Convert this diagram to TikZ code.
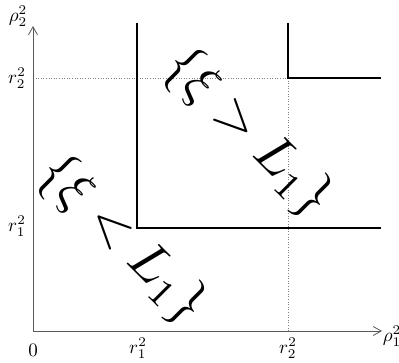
\documentclass[tikz,border=0pt]{standalone}
\usetikzlibrary{arrows.meta}
\begin{document}
\begin{tikzpicture}[x=1pt,y=-1pt,
  axis/.style={draw=black!65,line width=0.8pt,-{Straight Barb[length=8pt,width=9pt,line width=0.8pt]}},
  region/.style={draw=black,line width=1.2pt},
  guide/.style={draw=black!50,dotted,line width=0.6pt},
  lbl/.style={scale=1.9,transform shape,inner sep=0.5pt},
  big/.style={scale=5.4,rotate=-45,transform shape,inner sep=0pt}]
\useasboundingbox (0,0) rectangle (399,362);
\coordinate (O) at (33,331);
\coordinate (X) at (382,331);
\coordinate (Y) at (33,26);
\coordinate (A) at (137,23);
\coordinate (B) at (137,228);
\coordinate (C) at (381,228);
\coordinate (D) at (288,23);
\coordinate (E) at (288,78);
\coordinate (F) at (381,78);
\coordinate (Y2) at (33,78);
\coordinate (X2) at (288,331);
\draw[guide] (Y2) -- (E);
\draw[guide] (E) -- (X2);
\draw[axis] (O) -- (X);
\draw[axis] (O) -- (Y);
\draw[region] (A) -- (B) -- (C);
\draw[region] (D) -- (E) -- (F);
\node[lbl] (py) at (18,16) {$\rho_2^2$};
\node[lbl] (px) at (392,336) {$\rho_1^2$};
\node[lbl] (ly2) at (17,78) {$r_2^2$};
\node[lbl] (ly1) at (17,226) {$r_1^2$};
\node[lbl] (l0) at (33,350) {$0$};
\node[lbl] (lx1) at (138,348) {$r_1^2$};
\node[lbl] (lx2) at (288,348) {$r_2^2$};
\node[big] (t1) at (248,133) {$\{\xi > L_1\}$};
\node[big] (t2) at (122,240) {$\{\xi < L_1\}$};
\end{tikzpicture}
\end{document}
